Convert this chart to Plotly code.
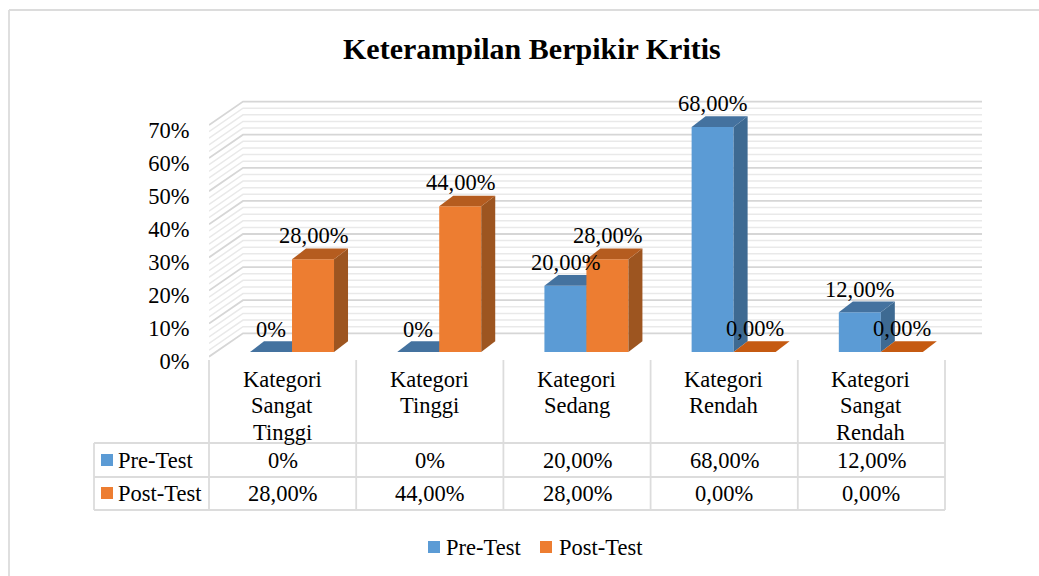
import plotly.graph_objects as go

# ---------- data ----------
categories = ["Kategori\nSangat\nTinggi", "Kategori\nTinggi", "Kategori\nSedang",
              "Kategori\nRendah", "Kategori\nSangat\nRendah"]
pre_test = [0, 0, 20, 68, 12]
post_test = [28, 44, 28, 0, 0]
pre_labels = ["0%", "0%", "20,00%", "68,00%", "12,00%"]
post_labels = ["28,00%", "44,00%", "28,00%", "0,00%", "0,00%"]
y_ticks = [0, 10, 20, 30, 40, 50, 60, 70]
title = "Keterampilan Berpikir Kritis"

# ---------- styling / layout ----------
W, H = 1039, 576
FONT = "Liberation Serif"
TEXT = "#000000"
SIZE = 22.5
BLUE, BLUE_TOP, BLUE_SIDE = "#5B9BD5", "#44729F", "#3E6A92"
ORANGE, ORANGE_TOP, ORANGE_SIDE = "#ED7D31", "#B55C1F", "#9D5520"
FLAT_ORANGE = "#C55A11"
GRID, GRID_MINOR, BORDER = "#D6D6D6", "#E9E9E9", "#DCDCDC"

PX_PER_CAT, PX_PER_PCT = 147.2, 3.31
LEFT, RIGHT, FLOOR, TOP, BOTTOM = 209, 982, 352, 95, 362
BAR_W = 42 / PX_PER_CAT
BAR_OFFSET = 0.564
DEPTH_X, DEPTH_Y = 14 / PX_PER_CAT, 10.7 / PX_PER_PCT
WALL_X = 34 / PX_PER_CAT
WALL_BACK, WALL_FRONT = 18.7 / PX_PER_PCT, -4.7 / PX_PER_PCT

x_range = [0, (RIGHT - LEFT) / PX_PER_CAT]
y_range = [(FLOOR - BOTTOM) / PX_PER_PCT, (FLOOR - TOP) / PX_PER_PCT]
tick_shift = 9.5 / PX_PER_PCT
tick_range = [y_range[0] + tick_shift, y_range[1] + tick_shift]
x_dom = [LEFT / W, RIGHT / W]
y_dom = [1 - BOTTOM / H, 1 - TOP / H]


def px(x):
    return x / W


def py(y):
    return 1 - y / H


fig = go.Figure()
centers = [i + BAR_OFFSET for i in range(len(categories))]


def add_series(name, values, front, top, side, flat, offset, xa, ya):
    xs = [c + offset for c in centers]
    fig.add_trace(go.Bar(x=xs, y=values, width=BAR_W, marker=dict(color=front, line=dict(width=0)),
                         name=name, showlegend=False, xaxis=xa, yaxis=ya, cliponaxis=False))
    for xc, v in zip(xs, values):
        x0, x1 = xc - BAR_W / 2, xc + BAR_W / 2
        if v > 0:
            fig.add_trace(go.Scatter(x=[x1, x1 + DEPTH_X, x1 + DEPTH_X, x1, x1],
                                     y=[0, DEPTH_Y, v + DEPTH_Y, v, 0],
                                     fill="toself", fillcolor=side, mode="none", hoverinfo="skip",
                                     showlegend=False, xaxis=xa, yaxis=ya))
        fig.add_trace(go.Scatter(x=[x0, x0 + DEPTH_X, x1 + DEPTH_X, x1, x0],
                                 y=[v, v + DEPTH_Y, v + DEPTH_Y, v, v],
                                 fill="toself", fillcolor=top if v > 0 else flat, mode="none",
                                 hoverinfo="skip", showlegend=False, xaxis=xa, yaxis=ya))


add_series("Pre-Test", pre_test, BLUE, BLUE_TOP, BLUE_SIDE, BLUE_TOP, -BAR_W / 2, "x", "y")
add_series("Post-Test", post_test, ORANGE, ORANGE_TOP, ORANGE_SIDE, FLAT_ORANGE, BAR_W / 2, "x2", "y2")

# invisible trace that keeps the tick-label axis alive
fig.add_trace(go.Scatter(x=[0], y=[0], mode="none", showlegend=False, hoverinfo="skip", xaxis="x", yaxis="y3"))

shapes = []
# walls: side wall + back wall with major and minor gridlines
for v in range(0, 71, 2):
    major = v % 10 == 0
    shapes.append(dict(type="path", xref="x", yref="y", layer="below",
                       path=f"M 0 {v + WALL_FRONT} L {WALL_X} {v + WALL_BACK} L {x_range[1]} {v + WALL_BACK}",
                       line=dict(color=GRID if major else GRID_MINOR, width=1.8 if major else 1.5)))


def pline(x0, y0, x1, y1, color=BORDER, width=1.8):
    shapes.append(dict(type="line", xref="paper", yref="paper", layer="above",
                       x0=px(x0), y0=py(y0), x1=px(x1), y1=py(y1), line=dict(color=color, width=width)))


def pbox(x0, y0, x1, y1, color):
    shapes.append(dict(type="rect", xref="paper", yref="paper", layer="above",
                       x0=px(x0), y0=py(y0), x1=px(x1), y1=py(y1), fillcolor=color, line=dict(width=0)))


# outer frame
pline(9, 10, W, 10)
pline(9, 10, 9, H)
# data table
for y in (443, 477, 510):
    pline(94, y, 945, y)
pline(94, 443, 94, 510)
for k in range(len(categories) + 1):
    pline(LEFT + k * PX_PER_CAT, 360, LEFT + k * PX_PER_CAT, 510)
pbox(101, 454, 113, 466, BLUE)
pbox(101, 487, 113, 499, ORANGE)
# legend keys
pbox(428, 541, 440, 553, BLUE)
pbox(540, 541, 552, 553, ORANGE)


def ptext(x, y, text, size=SIZE, anchor="center", bold=False):
    return dict(xref="paper", yref="paper", x=px(x), y=py(y), text=f"<b>{text}</b>" if bold else text,
                showarrow=False, xanchor=anchor, yanchor="middle",
                font=dict(family=FONT, size=size, color=TEXT))


annotations = [ptext(532, 48, title, size=30, bold=True)]
# value labels sit above each bar
for xc, v, lab in zip(centers, pre_test, pre_labels):
    annotations.append(dict(xref="x", yref="y", x=xc - BAR_W / 2, y=v, text=lab, showarrow=False,
                            yanchor="middle", yshift=23, font=dict(family=FONT, size=SIZE, color=TEXT)))
for xc, v, lab in zip(centers, post_test, post_labels):
    annotations.append(dict(xref="x", yref="y", x=xc + BAR_W / 2, y=v, text=lab, showarrow=False,
                            yanchor="middle", yshift=24, font=dict(family=FONT, size=SIZE, color=TEXT)))
# table content
for i, cat in enumerate(categories):
    cx = LEFT + (i + 0.5) * PX_PER_CAT
    for j, line in enumerate(cat.split("\n")):
        annotations.append(ptext(cx - 0.5, 379 + j * 26.5, line))
    annotations.append(ptext(cx, 460, pre_labels[i]))
    annotations.append(ptext(cx, 493, post_labels[i]))
annotations.append(ptext(115.5, 460, "Pre-Test", anchor="left"))
annotations.append(ptext(115.5, 493, "Post-Test", anchor="left"))
annotations.append(ptext(443.5, 547, "Pre-Test", anchor="left"))
annotations.append(ptext(556.5, 547, "Post-Test", anchor="left"))

hidden = dict(showgrid=False, zeroline=False, showticklabels=False, ticks="", showline=False)
fig.update_layout(
    width=W, height=H, margin=dict(l=0, r=0, t=0, b=0, pad=0, autoexpand=False),
    paper_bgcolor="white", plot_bgcolor="rgba(0,0,0,0)",
    barmode="overlay", showlegend=False, shapes=shapes, annotations=annotations,
    font=dict(family=FONT, size=SIZE, color=TEXT),
    xaxis=dict(domain=x_dom, range=x_range, automargin=False, **hidden),
    yaxis=dict(domain=y_dom, range=y_range, automargin=False, **hidden),
    xaxis2=dict(domain=x_dom, range=x_range, overlaying="x", anchor="y2", automargin=False, **hidden),
    yaxis2=dict(domain=y_dom, range=y_range, overlaying="y", anchor="x2", automargin=False, **hidden),
    yaxis3=dict(domain=y_dom, range=tick_range, overlaying="y", anchor="x", side="left",
                tickvals=y_ticks, ticktext=[f"{t}%" for t in y_ticks], automargin=False,
                showgrid=False, zeroline=False, showline=False,
                ticks="outside", ticklen=14, tickcolor="rgba(0,0,0,0)",
                tickfont=dict(family=FONT, size=SIZE, color=TEXT)),
)
fig.write_html("out.html", config={"displayModeBar": False},
               post_script="document.body.style.margin='0';")
